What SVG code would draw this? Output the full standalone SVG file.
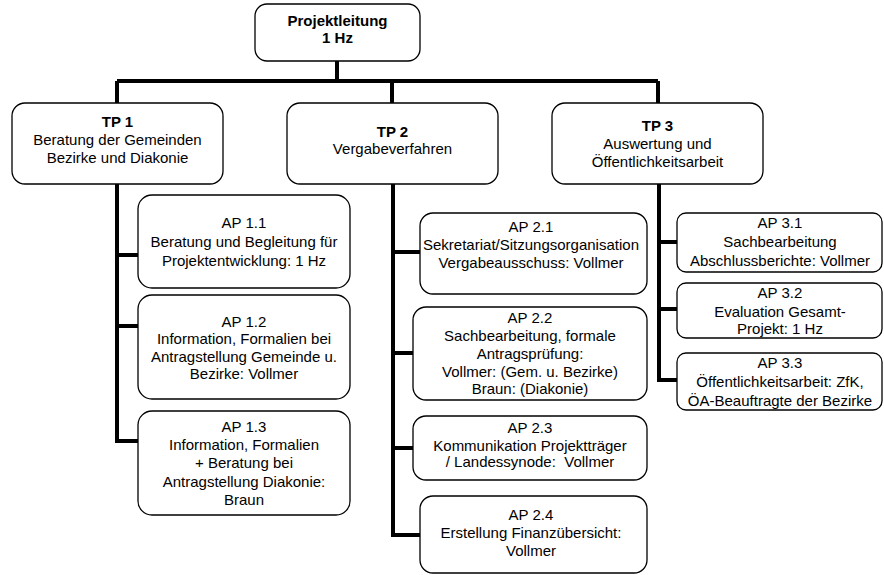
<svg xmlns="http://www.w3.org/2000/svg" width="884" height="575" viewBox="0 0 884 575">
<style>
.box{fill:#fff;stroke:#000;stroke-width:1.3}
.c{fill:none;stroke:#000;stroke-width:4}
text{font-family:"Liberation Sans",Arial,sans-serif;font-size:15px;text-anchor:middle;fill:#000}
.b{font-weight:bold}
</style>
<rect width="884" height="575" fill="#fff"/>
<g id="connectors">
<path class="c" d="M337 61V81M117 81H658M117 81V103M392 81V103M658 81V103"/>
<path class="c" d="M117 184V441H170V432M117 255H138M117 326H138"/>
<path class="c" d="M393 184V535H420M393 252H420M393 353H413M393 448H413"/>
<path class="c" d="M659 184V380H677M659 242H677M659 309H677"/>
</g>
<g id="pl"><rect class="box" x="255" y="4" width="165" height="57" rx="12"/>
<text class="b" x="337.5" y="26">Projektleitung</text><text class="b" x="337.5" y="43">1 Hz</text></g>
<g id="tp1"><rect class="box" x="12" y="103" width="211" height="81" rx="13"/>
<text class="b" x="117.5" y="127">TP 1</text><text x="117.5" y="145">Beratung der Gemeinden</text><text x="117.5" y="163">Bezirke und Diakonie</text></g>
<g id="tp2"><rect class="box" x="287" y="103" width="211" height="81" rx="13"/>
<text class="b" x="392.5" y="137">TP 2</text><text x="392.5" y="154">Vergabeverfahren</text></g>
<g id="tp3"><rect class="box" x="552" y="103" width="211" height="81" rx="13"/>
<text class="b" x="657.5" y="131">TP 3</text><text x="657.5" y="149">Auswertung und</text><text x="657.5" y="167">Öffentlichkeitsarbeit</text></g>
<g id="ap11"><rect class="box" x="138" y="195" width="212" height="93" rx="14"/>
<text x="244" y="228">AP 1.1</text><text x="244" y="247">Beratung und Begleitung für</text><text x="244" y="266">Projektentwicklung: 1 Hz</text></g>
<g id="ap12"><rect class="box" x="138" y="295" width="212" height="104" rx="14"/>
<text x="244" y="327">AP 1.2</text><text x="244" y="344">Information, Formalien bei</text><text x="244" y="362">Antragstellung Gemeinde u.</text><text x="244" y="379">Bezirke: Vollmer</text></g>
<g id="ap13"><rect class="box" x="138" y="411" width="212" height="104" rx="14"/>
<text x="244" y="432">AP 1.3</text><text x="244" y="450">Information, Formalien</text><text x="244" y="468">+ Beratung bei</text><text x="244" y="487">Antragstellung Diakonie:</text><text x="244" y="505">Braun</text></g>
<g id="ap21"><rect class="box" x="420" y="213" width="227" height="81" rx="13"/>
<text x="531" y="232">AP 2.1</text><text x="531" y="250">Sekretariat/Sitzungsorganisation</text><text x="531" y="268">Vergabeausschuss: Vollmer</text></g>
<g id="ap22"><rect class="box" x="413" y="307" width="234" height="93" rx="13"/>
<text x="530" y="323">AP 2.2</text><text x="530" y="341">Sachbearbeitung, formale</text><text x="530" y="359">Antragsprüfung:</text><text x="530" y="377">Vollmer: (Gem. u. Bezirke)</text><text x="530" y="394">Braun: (Diakonie)</text></g>
<g id="ap23"><rect class="box" x="413" y="416" width="234" height="64" rx="13"/>
<text x="530" y="433">AP 2.3</text><text x="530" y="451">Kommunikation Projektträger</text><text x="530" y="467" xml:space="preserve">/ Landessynode:  Vollmer</text></g>
<g id="ap24"><rect class="box" x="420" y="496" width="227" height="77" rx="13"/>
<text x="531" y="520">AP 2.4</text><text x="531" y="538">Erstellung Finanzübersicht:</text><text x="531" y="556">Vollmer</text></g>
<g id="ap31"><rect class="box" x="677" y="213" width="205" height="59" rx="9"/>
<text x="780" y="228">AP 3.1</text><text x="780" y="247">Sachbearbeitung</text><text x="780" y="266">Abschlussberichte: Vollmer</text></g>
<g id="ap32"><rect class="box" x="677" y="283" width="205" height="55" rx="9"/>
<text x="780" y="298">AP 3.2</text><text x="780" y="317">Evaluation Gesamt-</text><text x="780" y="334">Projekt: 1 Hz</text></g>
<g id="ap33"><rect class="box" x="677" y="353" width="205" height="57" rx="9"/>
<text x="780" y="368">AP 3.3</text><text x="780" y="387">Öffentlichkeitsarbeit: ZfK,</text><text x="780" y="406">ÖA-Beauftragte der Bezirke</text></g>
</svg>
